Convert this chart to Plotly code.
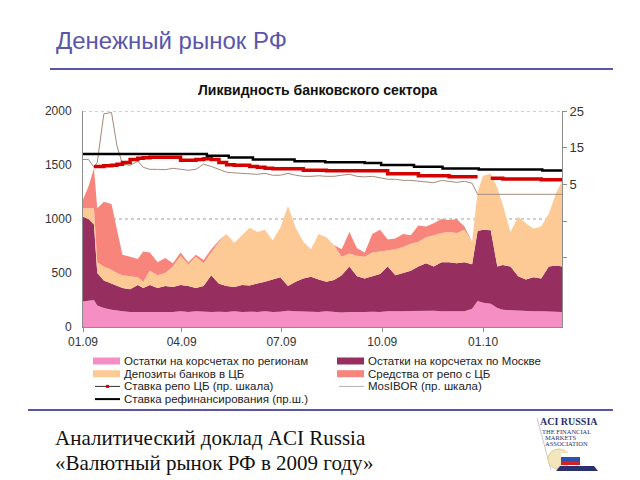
"""
Liquidity of the Russian banking sector, 2009 - early 2010.

Stacked areas (correspondent accounts, deposits, repo) on the left axis
and policy / money market rates on the right axis, laid out as a slide.
"""

import plotly.graph_objects as go

# ---------------------------------------------------------------- data
dates = [
    "2009-01-01", "2009-01-06", "2009-01-11", "2009-01-14", "2009-01-20", "2009-01-27",
    "2009-02-01", "2009-02-06", "2009-02-13", "2009-02-20", "2009-02-25",
    "2009-03-03", "2009-03-10", "2009-03-17", "2009-03-24", "2009-03-31",
    "2009-04-07", "2009-04-14", "2009-04-21", "2009-04-28",
    "2009-05-05", "2009-05-12", "2009-05-19", "2009-05-26",
    "2009-06-02", "2009-06-09", "2009-06-16", "2009-06-23", "2009-06-30",
    "2009-07-07", "2009-07-14", "2009-07-21", "2009-07-28",
    "2009-08-04", "2009-08-11", "2009-08-18", "2009-08-25",
    "2009-09-01", "2009-09-08", "2009-09-15", "2009-09-22", "2009-09-29",
    "2009-10-06", "2009-10-13", "2009-10-20", "2009-10-27",
    "2009-11-03", "2009-11-10", "2009-11-17", "2009-11-24",
    "2009-12-01", "2009-12-08", "2009-12-15", "2009-12-22", "2009-12-27",
    "2010-01-01", "2010-01-08", "2010-01-14", "2010-01-19", "2010-01-26",
    "2010-02-02", "2010-02-09", "2010-02-16", "2010-02-23",
    "2010-03-02", "2010-03-09", "2010-03-14",
]

# billion roubles, left axis (stacked from the bottom)
regions = [
    235, 240, 250, 200, 175, 160, 150, 145, 140, 140,
    138, 140, 142, 138, 140, 145, 140, 145, 140, 140,
    142, 140, 145, 140, 142, 140, 145, 140, 142, 150,
    145, 142, 140, 140, 145, 140, 135, 140, 138, 140,
    142, 140, 145, 142, 145, 148, 150, 152, 150, 145,
    145, 142, 145, 170, 240, 225, 215, 175, 160, 155,
    150, 148, 145, 145, 145, 142, 140,
]
moscow = [
    785, 760, 700, 300, 255, 240, 230, 215, 210, 250,
    222, 250, 218, 242, 230, 245, 240, 215, 240, 340,
    258, 240, 225, 250, 243, 260, 275, 300, 318, 230,
    275, 308, 325, 300, 275, 295, 345, 420, 332, 310,
    328, 350, 415, 338, 355, 372, 410, 438, 410, 455,
    455, 448, 455, 410, 650, 675, 680, 385, 415, 405,
    320, 292, 315, 305, 415, 428, 420,
]
deposits = [
    80, 100, 150, 100, 130, 130, 120, 120, 120, 70,
    60, 130, 120, 120, 190, 270, 200, 290, 210, 210,
    390, 480, 410, 460, 535, 480, 480, 360, 460, 740,
    500, 340, 255, 420, 410, 325, 170, 120, 190, 200,
    220, 210, 150, 240, 240, 250, 230, 240, 290, 270,
    280, 280, 300, 210, 360, 500, 525, 730, 555, 320,
    550, 520, 450, 480, 490, 680, 790,
]
repo_funds = [
    80, 200, 370, 500, 600, 610, 400, 190, 180, 170,
    280, 170, 120, 140, 30, 30, 20, 20, 30, 30,
    10, 0, 0, 0, 0, 0, 0, 0, 0, 0,
    0, 0, 0, 0, 0, 0, 70, 200, 70, 40,
    170, 200, 100, 100, 120, 80, 150, 100, 110, 130,
    110, 130, 30, 0, 0, 0, 0, 0, 0, 0,
    0, 0, 0, 0, 0, 0, 0,
]

# %, right axis
repo_rate = [
    None, None, 9.9, 9.9, 10.05, 10.2, 10.5, 11.0, 11.8, 12.1,
    12.25, 12.4, 12.4, 12.4, 12.4, 11.55, 11.55, 11.8, 12.0, 11.8,
    11.0, 10.35, 10.2, 10.2, 9.9, 9.65, 9.4, 9.25, 9.25, 9.25,
    9.25, 8.85, 8.85, 8.85, 8.7, 8.7, 8.7, 8.7, 8.7, 8.7,
    8.7, 8.7, 7.9, 7.9, 7.9, 7.9, 7.35, 7.35, 7.35, 7.35,
    7.05, 7.05, 7.05, 7.05, 7.05, None, 6.65, 6.65, 6.5, 6.5,
    6.5, 6.5, 6.5, 6.25, 6.25, 6.25, 6.25,
]
mosibor = [
    11.8, 11.8, 9.65, 11.0, 24.2, 24.6, 15.5, 10.5, 10.2, 11.3,
    9.65, 9.1, 9.1, 9.0, 9.4, 9.1, 8.85, 9.1, 10.5, 9.9,
    9.1, 8.3, 8.15, 8.0, 7.9, 7.75, 8.0, 7.5, 7.5, 8.0,
    7.5, 7.2, 7.2, 7.35, 7.2, 7.2, 7.5, 7.75, 7.2, 7.05,
    7.2, 6.9, 6.4, 6.4, 6.1, 6.1, 5.85, 5.55, 5.45, 6.1,
    5.85, 5.55, 5.85, 5.3, 2.3, 2.3, 2.3, 2.3, 2.3, 2.3,
    2.3, 2.3, 2.3, 2.3, 2.3, 2.3, 2.3,
]

refi_dates = [
    "2009-01-01", "2009-04-24", "2009-05-14", "2009-06-05", "2009-07-13",
    "2009-08-10", "2009-09-15", "2009-09-30", "2009-10-30", "2009-11-25",
    "2009-12-28", "2010-02-24", "2010-03-14",
]
refi_rate = [13.3, 12.8, 12.3, 11.8, 11.3, 11.05, 10.8, 10.3, 9.8, 9.3, 9.05, 8.8, 8.8]

tick_dates = ["2009-01-01", "2009-04-01", "2009-07-01", "2009-10-01", "2010-01-01"]
tick_labels = ["01.09", "04.09", "07.09", "10.09", "01.10"]
left_ticks = [0, 500, 1000, 1500, 2000]
grid_levels = [1000, 2000]
right_ticks = [25, 15, 5, -5, -15]
right_labels = ["25", "15", "5", "", ""]

names = [
    "Остатки на корсчетах по регионам",
    "Остатки на корсчетах по Москве",
    "Депозиты банков в ЦБ",
    "Средства от репо с ЦБ",
    "Ставка репо ЦБ (пр. шкала)",
    "MosIBOR (пр. шкала)",
    "Ставка рефинансирования (пр.ш.)",
]

# ---------------------------------------------------------------- style
C_REGIONS = "#f58ec3"
C_MOSCOW = "#962f60"
C_DEPOSITS = "#fdca96"
C_REPO = "#f7857c"
C_REPO_RATE = "#d40000"
C_MOSIBOR = "#a38a7c"
C_REFI = "#000000"
C_SLIDE = "#5a55aa"
SANS = "Liberation Sans, Arial, sans-serif"
SERIF = "Liberation Serif, Times New Roman, serif"

W, H = 640, 480
L, T, PW, PH = 83, 111, 479, 216


def xp(px):
    """Pixel x -> paper x."""
    return (px - L) / PW


def yp(py):
    """Pixel y -> paper y."""
    return (T + PH - py) / PH


def create_figure() -> go.Figure:
    fig = go.Figure()

    for vals, name, color in [
        (regions, names[0], C_REGIONS),
        (moscow, names[1], C_MOSCOW),
        (deposits, names[2], C_DEPOSITS),
        (repo_funds, names[3], C_REPO),
    ]:
        fig.add_trace(
            go.Scatter(
                x=dates, y=vals, name=name, stackgroup="liq", mode="lines",
                line=dict(width=0, color=color), fillcolor=color,
            )
        )

    fig.add_trace(
        go.Scatter(
            x=dates, y=mosibor, name=names[5], yaxis="y2", mode="lines",
            line=dict(color=C_MOSIBOR, width=1),
        )
    )
    fig.add_trace(
        go.Scatter(
            x=dates, y=repo_rate, name=names[4], yaxis="y2", mode="lines",
            line=dict(color=C_REPO_RATE, width=3.5, shape="hv"),
        )
    )
    fig.add_trace(
        go.Scatter(
            x=refi_dates, y=refi_rate, name=names[6], yaxis="y2", mode="lines",
            line=dict(color=C_REFI, width=2.5, shape="hv"),
        )
    )

    r_bottom = 25 - PH * 0.2725
    fig.update_layout(
        width=W, height=H,
        margin=dict(l=L, r=W - L - PW, t=T, b=H - T - PH),
        paper_bgcolor="white", plot_bgcolor="white",
        showlegend=False,
        font=dict(family=SANS, size=12, color="#333333"),
        xaxis=dict(
            type="date", range=["2009-01-01", "2010-03-14"],
            tickvals=tick_dates, ticktext=tick_labels,
            showgrid=False, showline=True, linecolor="#8c8c8c", linewidth=1,
            ticks="outside", ticklen=4, tickcolor="#8c8c8c",
            tickfont=dict(size=12, color="#333333"),
        ),
        yaxis=dict(
            range=[0, 2000], tickvals=left_ticks, showgrid=False,
            showline=True, linecolor="#8c8c8c", linewidth=1, zeroline=False,
            ticks="", ticklabelstandoff=8,
            tickfont=dict(size=12, color="#333333"),
        ),
        yaxis2=dict(
            overlaying="y", side="right", range=[r_bottom, 25],
            tickvals=right_ticks, ticktext=right_labels,
            showgrid=False, zeroline=False,
            showline=True, linecolor="#8c8c8c", linewidth=1,
            ticks="outside", ticklen=4, tickcolor="#8c8c8c",
            tickfont=dict(size=13, color="#333333"),
        ),
    )

    shapes = []
    ann = []

    # dotted gridlines, only every 1000 like the original
    for level in grid_levels:
        shapes.append(dict(type="line", xref="paper", yref="y", layer="below",
                           x0=0, x1=1, y0=level, y1=level,
                           line=dict(color="#a0a0a0", width=1, dash="dot")))

    # slide decoration
    shapes.append(dict(type="line", xref="paper", yref="paper",
                       x0=xp(50), x1=xp(613), y0=yp(69), y1=yp(69),
                       line=dict(color=C_SLIDE, width=2)))
    shapes.append(dict(type="line", xref="paper", yref="paper",
                       x0=xp(28), x1=xp(613), y0=yp(410), y1=yp(410),
                       line=dict(color=C_SLIDE, width=2)))
    ann.append(dict(text="Денежный рынок РФ", x=xp(54), y=yp(40),
                    xanchor="left", yanchor="middle",
                    font=dict(family="Liberation Sans Narrow, Arial Narrow, " + SANS,
                              size=24, color=C_SLIDE)))
    ann.append(dict(text="<b>Ликвидность банковского сектора</b>", x=xp(318), y=yp(90),
                    xanchor="center", yanchor="middle",
                    font=dict(family=SANS, size=14, color="#111111")))
    ann.append(dict(text="Аналитический доклад ACI Russia", x=xp(53), y=yp(438),
                    xanchor="left", yanchor="middle",
                    font=dict(family=SERIF, size=21, color="#111111")))
    ann.append(dict(text="«Валютный рынок РФ в 2009 году»", x=xp(53), y=yp(463),
                    xanchor="left", yanchor="middle",
                    font=dict(family=SERIF, size=21, color="#111111")))

    # legend, drawn by hand in two columns
    rows = [361, 373.7, 386.4, 399.1]
    cols = [(93, 120), (337, 364)]
    items = [
        ("box", C_REGIONS, names[0], 0, 0),
        ("box", C_MOSCOW, names[1], 1, 0),
        ("box", C_DEPOSITS, names[2], 0, 1),
        ("box", C_REPO, names[3], 1, 1),
        ("marker", C_REPO_RATE, names[4], 0, 2),
        ("line", "#b0b0b0", names[5], 1, 2),
        ("thick", C_REFI, names[6], 0, 3),
    ]
    for kind, color, label, c, r in items:
        x0, x1 = cols[c]
        y = rows[r]
        if kind == "box":
            shapes.append(dict(type="rect", xref="paper", yref="paper",
                               x0=xp(x0), x1=xp(x1), y0=yp(y + 3.5), y1=yp(y - 3.5),
                               fillcolor=color, line=dict(width=0)))
        else:
            width = {"marker": 1, "line": 1, "thick": 2}[kind]
            shapes.append(dict(type="line", xref="paper", yref="paper",
                               x0=xp(x0 + 2), x1=xp(x1), y0=yp(y), y1=yp(y),
                               line=dict(color="#333333" if kind == "marker" else color,
                                         width=width)))
            if kind == "marker":
                xm = (x0 + x1) / 2 + 1
                shapes.append(dict(type="rect", xref="paper", yref="paper",
                                   x0=xp(xm - 1.5), x1=xp(xm + 1.5),
                                   y0=yp(y + 1.5), y1=yp(y - 1.5),
                                   fillcolor=color, line=dict(width=0)))
        ann.append(dict(text=label, x=xp(x1 + 1.5), y=yp(y), xanchor="left",
                        yanchor="middle",
                        font=dict(family=SANS, size=11.5, color="#222222")))

    # ACI Russia logo
    shapes.append(dict(type="line", xref="paper", yref="paper",
                       x0=xp(537), x1=xp(551), y0=yp(418), y1=yp(470),
                       line=dict(color="#c8c8c8", width=1)))
    shapes.append(dict(type="circle", xref="paper", yref="paper",
                       x0=xp(548), x1=xp(570), y0=yp(449), y1=yp(469),
                       fillcolor="#f3e6bf", line=dict(color="#e4cf8a", width=1)))
    for i, fc in enumerate(["#ffffff", "#2f4fb0", "#d82020"]):
        shapes.append(dict(type="rect", xref="paper", yref="paper",
                           x0=xp(561), x1=xp(580),
                           y0=yp(453 + 4 * i), y1=yp(457 + 4 * i),
                           fillcolor=fc, line=dict(width=0)))
    shapes.append(dict(type="path", xref="paper", yref="paper",
                       path="M {} {} L {} {} L {} {} L {} {} Z".format(
                           xp(556), yp(471), xp(598), yp(471),
                           xp(594), yp(466), xp(560), yp(466)),
                       fillcolor="#2a2f6e", line=dict(width=0)))
    ann.append(dict(text="<b>ACI RUSSIA</b>", x=xp(538), y=yp(421), xanchor="left",
                    yanchor="middle",
                    font=dict(family=SERIF, size=10, color="#2a2f6e")))
    for i, line in enumerate(["THE FINANCIAL", "MARKETS", "ASSOCIATION"]):
        ann.append(dict(text=line, x=xp(540 + (3 if i else 0)), y=yp(431 + 6 * i),
                        xanchor="left", yanchor="middle",
                        font=dict(family=SERIF, size=6.5, color="#2a2f6e")))

    for a in ann:
        a.update(xref="paper", yref="paper", showarrow=False)
    fig.update_layout(shapes=shapes, annotations=ann)
    return fig


fig = create_figure()
fig.write_html(
    "out.html",
    config={"displayModeBar": False},
    post_script="document.body.style.margin='0';",
)
